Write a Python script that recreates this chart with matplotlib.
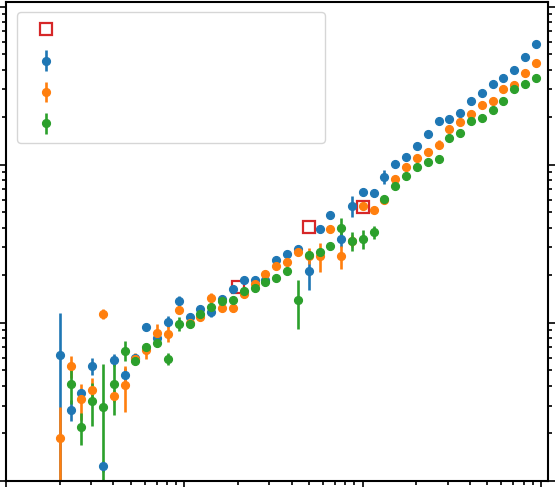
import numpy as np
import matplotlib
matplotlib.use('Agg')
import matplotlib.pyplot as plt

# x positions of the measured points
x = [2.0, 2.3, 2.64, 3.04, 3.5, 4.02, 4.63, 5.32, 6.12, 7.04, 8.09, 9.3,
     10.7, 12.3, 14.2, 16.3, 18.7, 21.5, 24.8, 28.5, 32.7, 37.6, 43.3, 49.8,
     57.3, 65.8, 75.7, 87.1, 100.1, 115.1, 132.4, 152.3, 175.1, 201.4, 231.6,
     266.3, 306.3, 352.2, 405.0, 465.8, 535.7, 616.0, 708.4, 814.7, 936.9]

# blue series
blue_y = [0.63, 0.283, 0.361, 0.535, 0.124, 0.584, 0.469, 0.60, 0.938, 0.804,
          1.02, 1.38, 1.09, 1.23, 1.17, 1.42, 1.64, 1.86, 1.88, 1.88, 2.49,
          2.71, 2.95, 2.12, 3.94, 4.78, 3.41, 5.5, 6.72, 6.62, 8.4, 10.15,
          11.2, 13.2, 15.7, 18.9, 19.6, 21.2, 25.2, 28.5, 32.5, 35.3, 40.0,
          47.9, 57.9]
blue_err = [0.53, 0.044, 0.02, 0.066, 0.01, 0.05, 0.05, 0.03, 0.03, 0.04,
            0.08, 0.1, 0.04, 0.04, 0.08, 0.04, 0.05, 0.05, 0.05, 0.05, 0.06,
            0.06, 0.07, 0.5, 0.06, 0.08, 0.4, 0.8, 0.1, 0.4, 0.8, 0.2, 0.2,
            0.2, 0.3, 0.3, 0.3, 0.3, 0.4, 0.4, 0.5, 0.5, 0.6, 0.7, 0.8]

# orange series
orange_y = [0.186, 0.535, 0.328, 0.375, 1.14, 0.347, 0.402, 0.593, 0.67, 0.865,
            0.856, 1.21, 1.0, 1.09, 1.44, 1.25, 1.25, 1.53, 1.77, 2.05, 2.30,
            2.44, 2.79, 2.66, 2.66, 3.94, 2.63, 3.3, 5.45, 5.15, 6.0, 8.16,
            9.67, 11.1, 12.1, 13.4, 16.9, 18.7, 20.8, 23.8, 25.2, 30.1, 32.0,
            38.1, 44.1]
orange_err = [0.106, 0.086, 0.084, 0.07, 0.08, 0.03, 0.13, 0.05, 0.08, 0.12,
              0.1, 0.05, 0.04, 0.04, 0.1, 0.05, 0.08, 0.1, 0.05, 0.08, 0.06,
              0.06, 0.07, 0.3, 0.55, 0.08, 0.45, 0.3, 0.1, 0.1, 0.2, 0.2, 0.2,
              0.2, 0.3, 0.9, 0.3, 0.3, 0.4, 0.4, 0.5, 0.5, 0.6, 0.6, 0.7]

# green series (no point at the first x)
green_y = [np.nan, 0.408, 0.220, 0.320, 0.292, 0.408, 0.668, 0.578, 0.705,
           0.748, 0.595, 0.99, 0.985, 1.13, 1.26, 1.37, 1.40, 1.60, 1.65, 1.82,
           1.92, 2.13, 1.39, 2.70, 2.81, 3.06, 3.96, 3.28, 3.39, 3.76, 6.1,
           7.3, 8.44, 9.75, 10.4, 10.9, 14.7, 15.9, 18.9, 19.8, 22.3, 25.2,
           30.3, 32.2, 35.5]
green_err = [np.nan, 0.10, 0.05, 0.098, 0.26, 0.147, 0.097, 0.03, 0.03, 0.04,
             0.05, 0.1, 0.06, 0.04, 0.05, 0.05, 0.05, 0.05, 0.08, 0.05, 0.05,
             0.06, 0.47, 0.07, 0.1, 0.07, 0.65, 0.45, 0.45, 0.35, 0.2, 0.2,
             0.2, 0.2, 0.2, 0.3, 0.3, 0.3, 0.3, 0.4, 0.4, 0.5, 0.5, 0.6, 1.0]

# red reference squares
ref_x = [20, 50, 100]
ref_y = [1.69, 4.02, 5.41]

fig = plt.figure(figsize=(5.55, 4.87), dpi=100)
ax = fig.add_axes([6 / 555, 6 / 487, 542 / 555, 479 / 487])

# squares first so they come first in the legend
sq, = ax.plot(ref_x, ref_y, 's', mfc='none', mec='#d62728', mew=1.6, ms=8)

err_style = dict(fmt='o', ms=5.6, elinewidth=1.9, capsize=0)
b = ax.errorbar(x, blue_y, yerr=blue_err, color='#1f77b4', **err_style)
o = ax.errorbar(x, orange_y, yerr=orange_err, color='#ff7f0e', **err_style)
g = ax.errorbar(x, green_y, yerr=green_err, color='#2ca02c', **err_style)

ax.set_xscale('log')
ax.set_yscale('log')
ax.set_xlim(1, 1095)
ax.set_ylim(0.1, 107)

# ticks outside, on the right as well, labels are outside the picture
ax.tick_params(which='both', direction='out', right=True, width=1.2,
               labelleft=False, labelbottom=False)
ax.tick_params(which='major', length=5)
ax.tick_params(which='minor', length=3)
for s in ax.spines.values():
    s.set_linewidth(1.5)

# legend with blank labels, stretched to the same width
ax.legend([sq, b, o, g], [' ', ' ', ' ', ' '], loc='upper left',
          bbox_to_anchor=(0.0203, 0.70, 0.5683, 0.279), mode='expand',
          borderaxespad=0, fontsize=15, labelspacing=0.55)

fig.savefig('out.png', dpi=100)
